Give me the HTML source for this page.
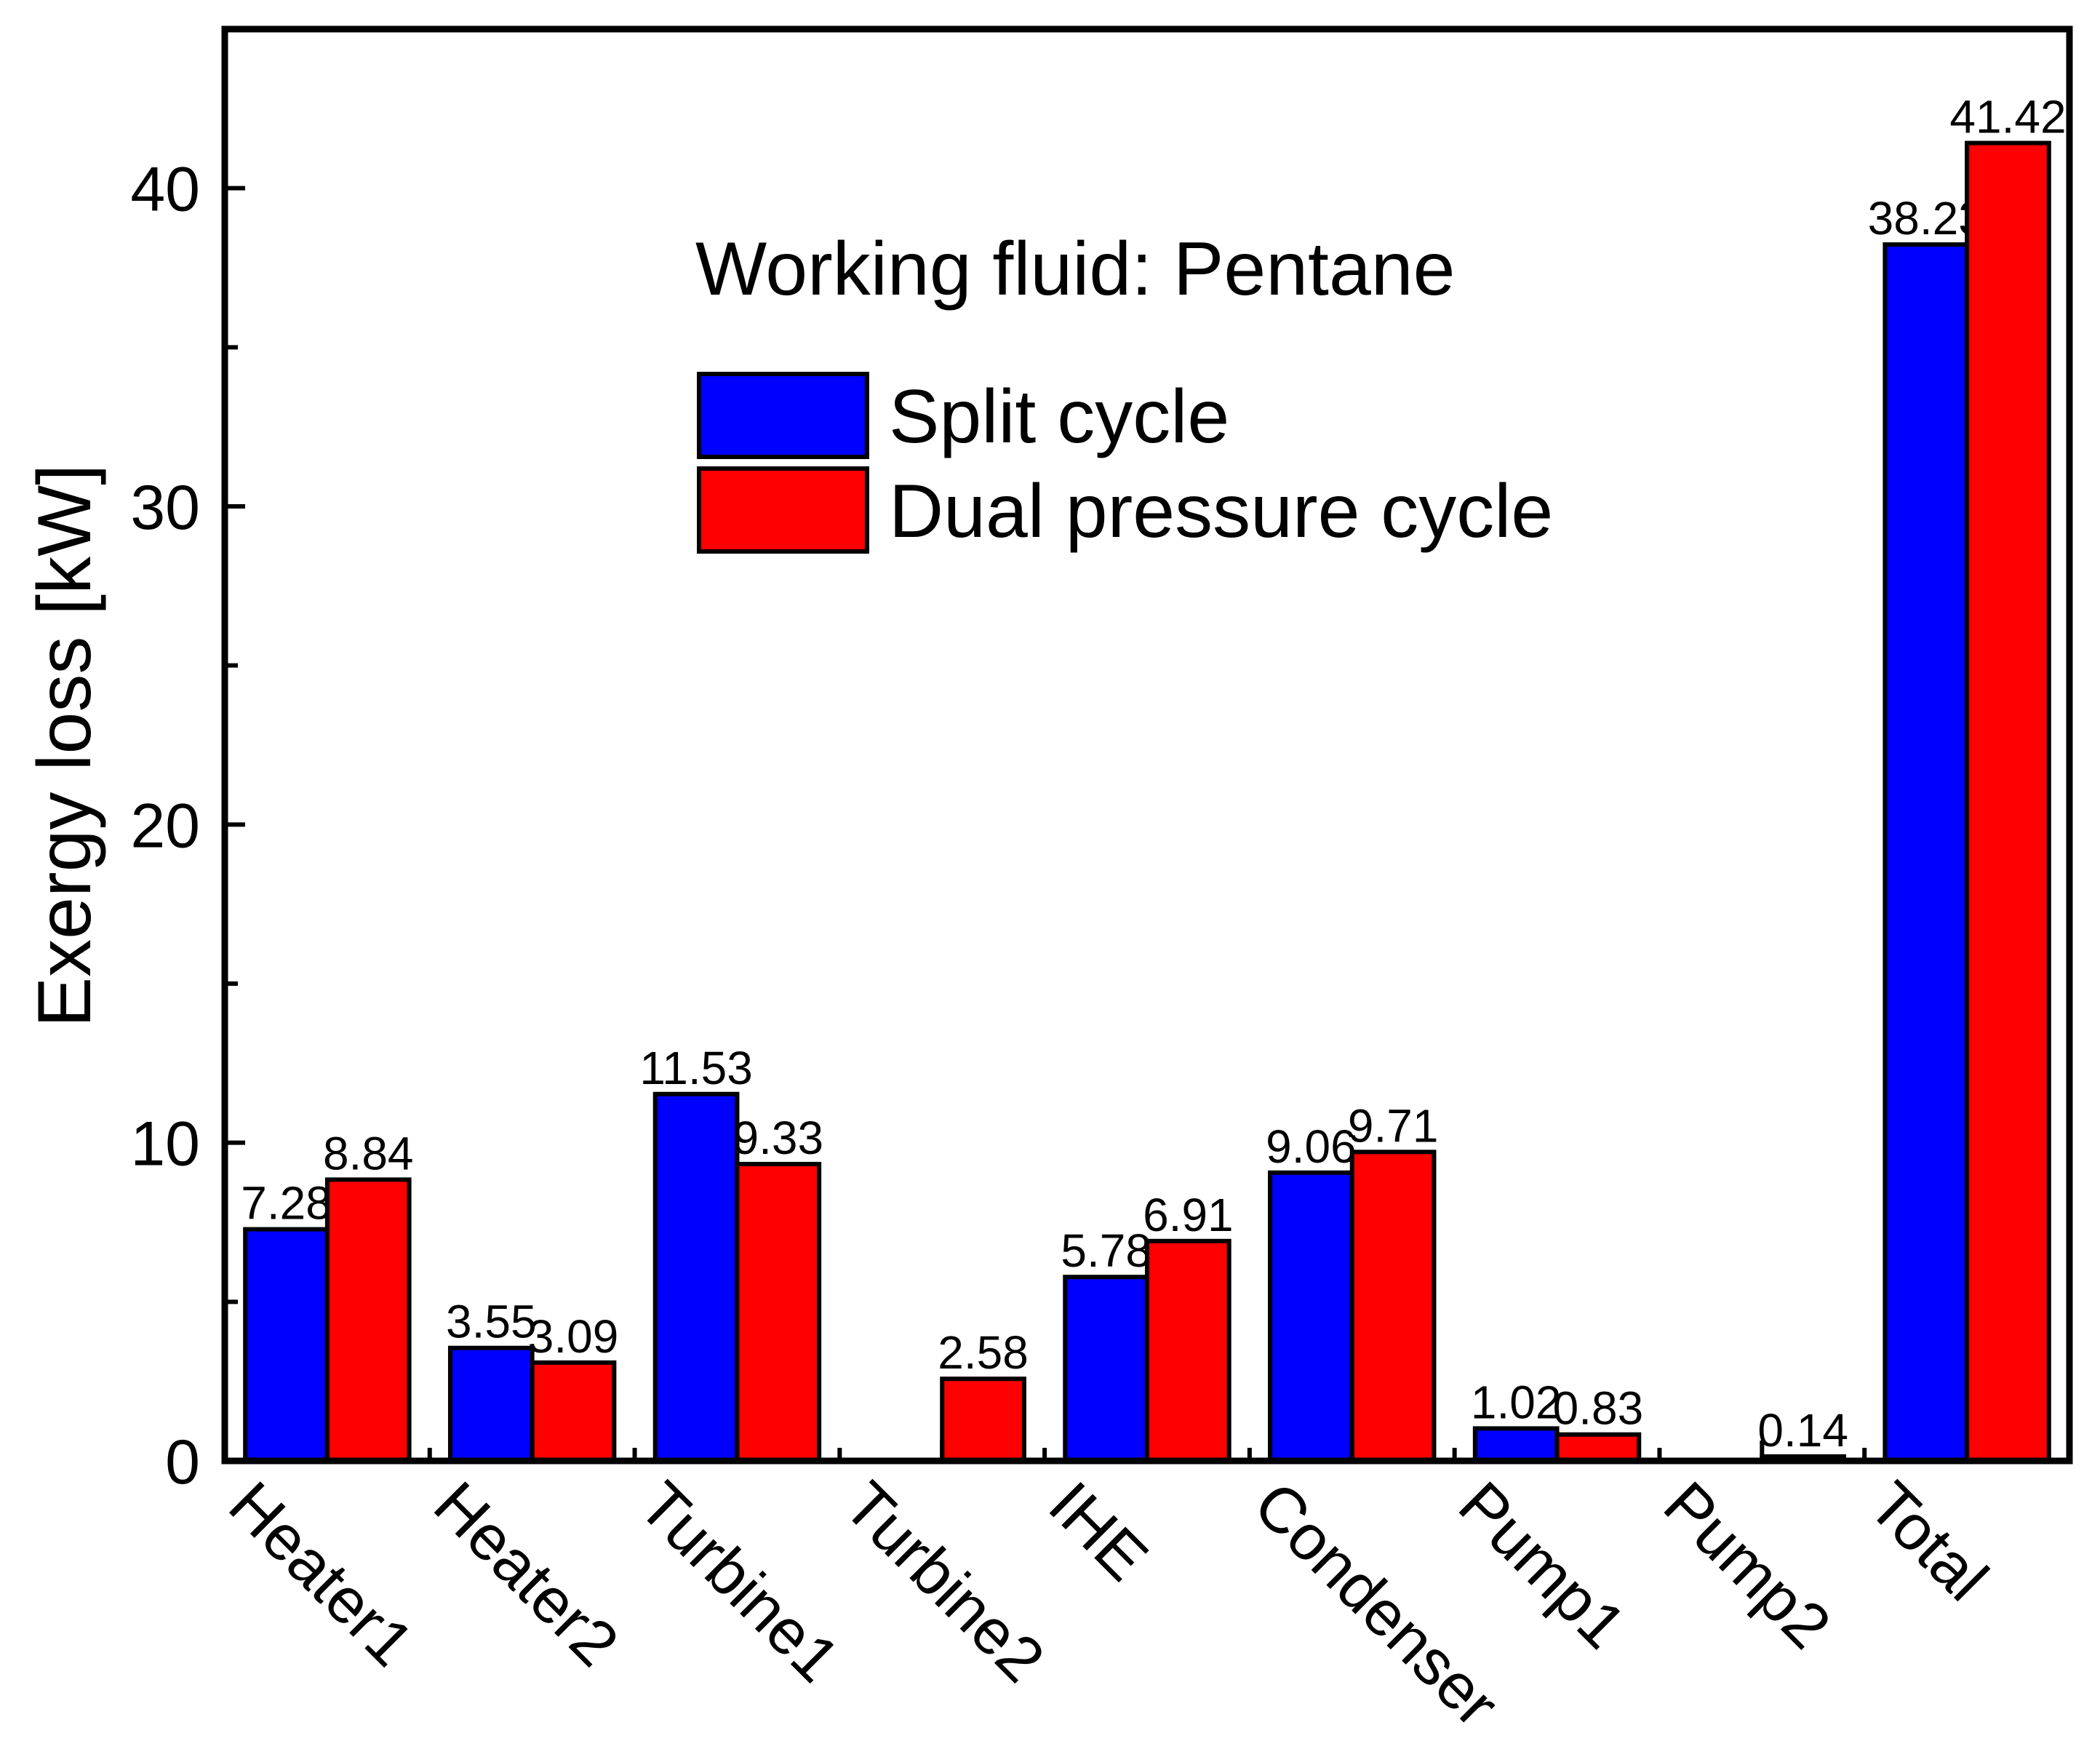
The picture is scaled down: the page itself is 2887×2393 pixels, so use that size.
<!DOCTYPE html>
<html><head><meta charset="utf-8"><style>
html,body{margin:0;padding:0;background:#fff;}
svg{display:block;font-family:"Liberation Sans",Arial,sans-serif;}
</style></head><body>
<svg id="chart" width="2887" height="2393" viewBox="0 0 2887 2393" xmlns="http://www.w3.org/2000/svg">
<g id="bars"></g>
<g id="axes"></g>
<text transform="translate(124,1025) rotate(-90)" text-anchor="middle" font-size="104">Exergy loss [kW]</text>
<g>
<text x="956" y="405" font-size="104">Working fluid: Pentane</text>
<rect x="961" y="514" width="231" height="114" fill="#0000ff" stroke="#000" stroke-width="6"/>
<text x="1222" y="608" font-size="104">Split cycle</text>
<rect x="961" y="644" width="231" height="114" fill="#ff0000" stroke="#000" stroke-width="6"/>
<text x="1222" y="738" font-size="104">Dual pressure cycle</text>
</g>
</svg>
<script>
const categories = ["Heater1","Heater2","Turbine1","Turbine2","IHE","Condenser","Pump1","Pump2","Total"];
const splitValues = [7.28,3.55,11.53,null,5.78,9.06,1.02,null,38.23];
const dualValues = [8.84,3.09,9.33,2.58,6.91,9.71,0.83,0.14,41.42];
const yTicks = [0,10,20,30,40];
const yMinorTicks = [5,15,25,35];

const NS="http://www.w3.org/2000/svg";
const L=309,R=2845,T=40,B=2008,YMAX=45;
const catW=(R-L)/categories.length;
const barW=catW*0.4;
function y(v){return B-(v/YMAX)*(B-T);}
function cx(i){return L+catW*(i+0.5);}
function mk(tag,attrs,parent){const e=document.createElementNS(NS,tag);for(const k in attrs)e.setAttribute(k,attrs[k]);parent.appendChild(e);return e;}
const bars=document.getElementById('bars');
const axes=document.getElementById('axes');

categories.forEach((c,i)=>{
  [[splitValues[i],'#0000ff',-1,'split'],[dualValues[i],'#ff0000',0,'dual']].forEach(([v,col,off,s])=>{
    if(v===null)return;
    const x=cx(i)+off*barW;
    const r=mk('rect',{x:x,y:y(v),width:barW,height:B-y(v),fill:col,stroke:'#000','stroke-width':6},bars);
    
    
    const t=mk('text',{x:x+barW/2,y:y(v)-14,'text-anchor':'middle','font-size':64},bars);
    
    
    t.textContent=v.toFixed(2);
  });
  const tk=mk('line',{x1:cx(i),x2:cx(i),y1:B,y2:B-28,stroke:'#000','stroke-width':6},axes);
  
  
  if(i>0){
    const mt=mk('line',{x1:L+catW*i,x2:L+catW*i,y1:B,y2:B-18,stroke:'#000','stroke-width':6},axes);
    
    
  }
  const lb=mk('text',{transform:'translate('+(cx(i)-140)+','+(B+66)+') rotate(45)','font-size':88},axes);
  
  
  lb.textContent=c;
});
yTicks.forEach(v=>{
  const l=mk('line',{x1:L,x2:L+28,y1:y(v),y2:y(v),stroke:'#000','stroke-width':6},axes);
  
  
  const t=mk('text',{x:L-34,y:y(v)+31,'text-anchor':'end','font-size':86},axes);
  
  
  t.textContent=v;
});
yMinorTicks.forEach(v=>{
  const l=mk('line',{x1:L,x2:L+18,y1:y(v),y2:y(v),stroke:'#000','stroke-width':6},axes);
  
  
});
const fr=mk('rect',{x:L,y:T,width:R-L,height:B-T,fill:'none',stroke:'#000','stroke-width':9},axes);


</script>
</body></html>
